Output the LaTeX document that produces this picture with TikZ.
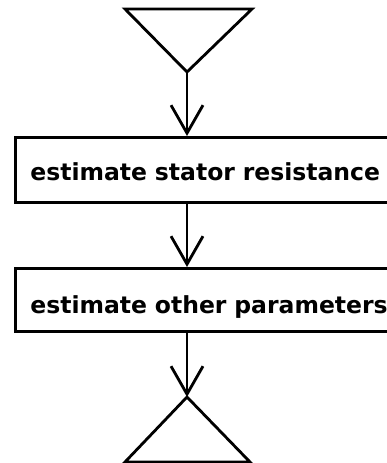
\documentclass[tikz,border=0pt]{standalone}
\usepackage{fontspec}
\setmainfont{DejaVu Sans}
\usetikzlibrary{arrows.meta}
\begin{document}
\begin{tikzpicture}[x=1pt,y=-1pt, line width=2.8pt,
  box/.style={draw, line width=2.8pt, anchor=north west, minimum width=390pt,
    text width=360pt, inner xsep=14pt, align=left, text depth=0pt,
    font=\bfseries\fontsize{23.5}{28}\selectfont},
  arr/.style={-{Straight Barb[length=28pt,width=32pt,line width=2.8pt]}},
  tri/.style={line width=2.8pt, line join=miter}]
\clip (0,0) rectangle (387,463);
% top triangle
\coordinate (t1) at (187,72);
\draw[tri] (125,9) -- (252,9) -- (t1) -- cycle;
% boxes
\node[box, minimum height=65pt, text height=21pt] (b1) at (14,136) {estimate stator resistance};
\node[box, minimum height=63pt, text height=27pt] (b2) at (14,267) {estimate other parameters};
% bottom triangle
\coordinate (t2) at (187,397);
\draw[tri] (t2) -- (250,462) -- (125,462) -- cycle;
% connectors
\draw[arr] (t1) -- (t1 |- b1.north);
\draw[arr] (t1 |- b1.south) -- (t1 |- b2.north);
\draw[arr] (t1 |- b2.south) -- (t2);
\end{tikzpicture}
\end{document}
